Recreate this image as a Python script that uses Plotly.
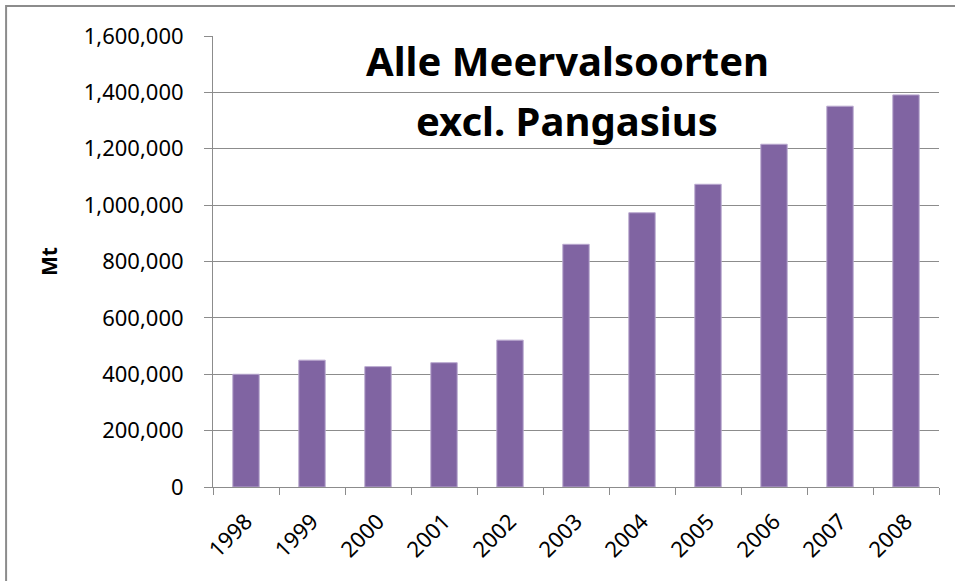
import plotly.graph_objects as go

years = ["1998", "1999", "2000", "2001", "2002", "2003", "2004", "2005", "2006", "2007", "2008"]
tonnes = [400000, 450000, 427000, 441000, 521000, 861000, 973000, 1074000, 1216000, 1351000, 1391000]

y_ticks = [0, 200000, 400000, 600000, 800000, 1000000, 1200000, 1400000, 1600000]
y_labels = ["0", "200,000", "400,000", "600,000", "800,000", "1,000,000", "1,200,000", "1,400,000", "1,600,000"]

title_lines = ["Alle Meervalsoorten", "excl. Pangasius"]

font = "Noto Sans"

fig = go.Figure(go.Bar(
    x=years, y=tonnes,
    marker=dict(color="#8064A2", line=dict(color="#B9A8CF", width=1)),
    width=0.4,
))

fig.update_layout(
    width=955, height=581,
    margin=dict(l=213, r=16, t=36, b=94),
    paper_bgcolor="white", plot_bgcolor="white",
    showlegend=False,
    font=dict(family=font, color="black"),
)

fig.update_xaxes(
    type="category",
    tickangle=-45,
    tickfont=dict(size=22, family=font, color="black"),
    showline=True, linecolor="#8c8c8c", linewidth=1,
    ticks="outside", tickson="boundaries", ticklen=7, tickcolor="#8c8c8c",
    ticklabelstandoff=12,
    showgrid=False,
)

fig.update_yaxes(
    range=[0, 1600000],
    tickvals=y_ticks, ticktext=y_labels,
    tickfont=dict(size=22, family=font, color="black"),
    showline=True, linecolor="#8c8c8c", linewidth=1,
    ticks="outside", ticklen=8, tickcolor="#8c8c8c",
    ticklabelstandoff=16,
    showgrid=True, gridcolor="#8c8c8c", gridwidth=1,
    zeroline=False,
    title=dict(text="<b>Mt</b>", font=dict(size=21, family=font), standoff=20),
)

for line, ypos in zip(title_lines, [0.946, 0.812]):
    fig.add_annotation(
        x=0.488, y=ypos, xref="paper", yref="paper",
        text="<b>" + line + "</b>",
        showarrow=False, xanchor="center", yanchor="middle",
        font=dict(size=40, family=font, color="black"),
    )

# outer chart frame, cut off at the right and bottom edges
fig.add_shape(
    type="rect", xref="paper", yref="paper",
    x0=-0.285, x1=1.05, y0=-0.3, y1=1.0665,
    line=dict(color="#8c8c8c", width=2), layer="below",
)

fig.write_html("out.html", config={"displayModeBar": False},
               post_script="document.body.style.margin='0';")
